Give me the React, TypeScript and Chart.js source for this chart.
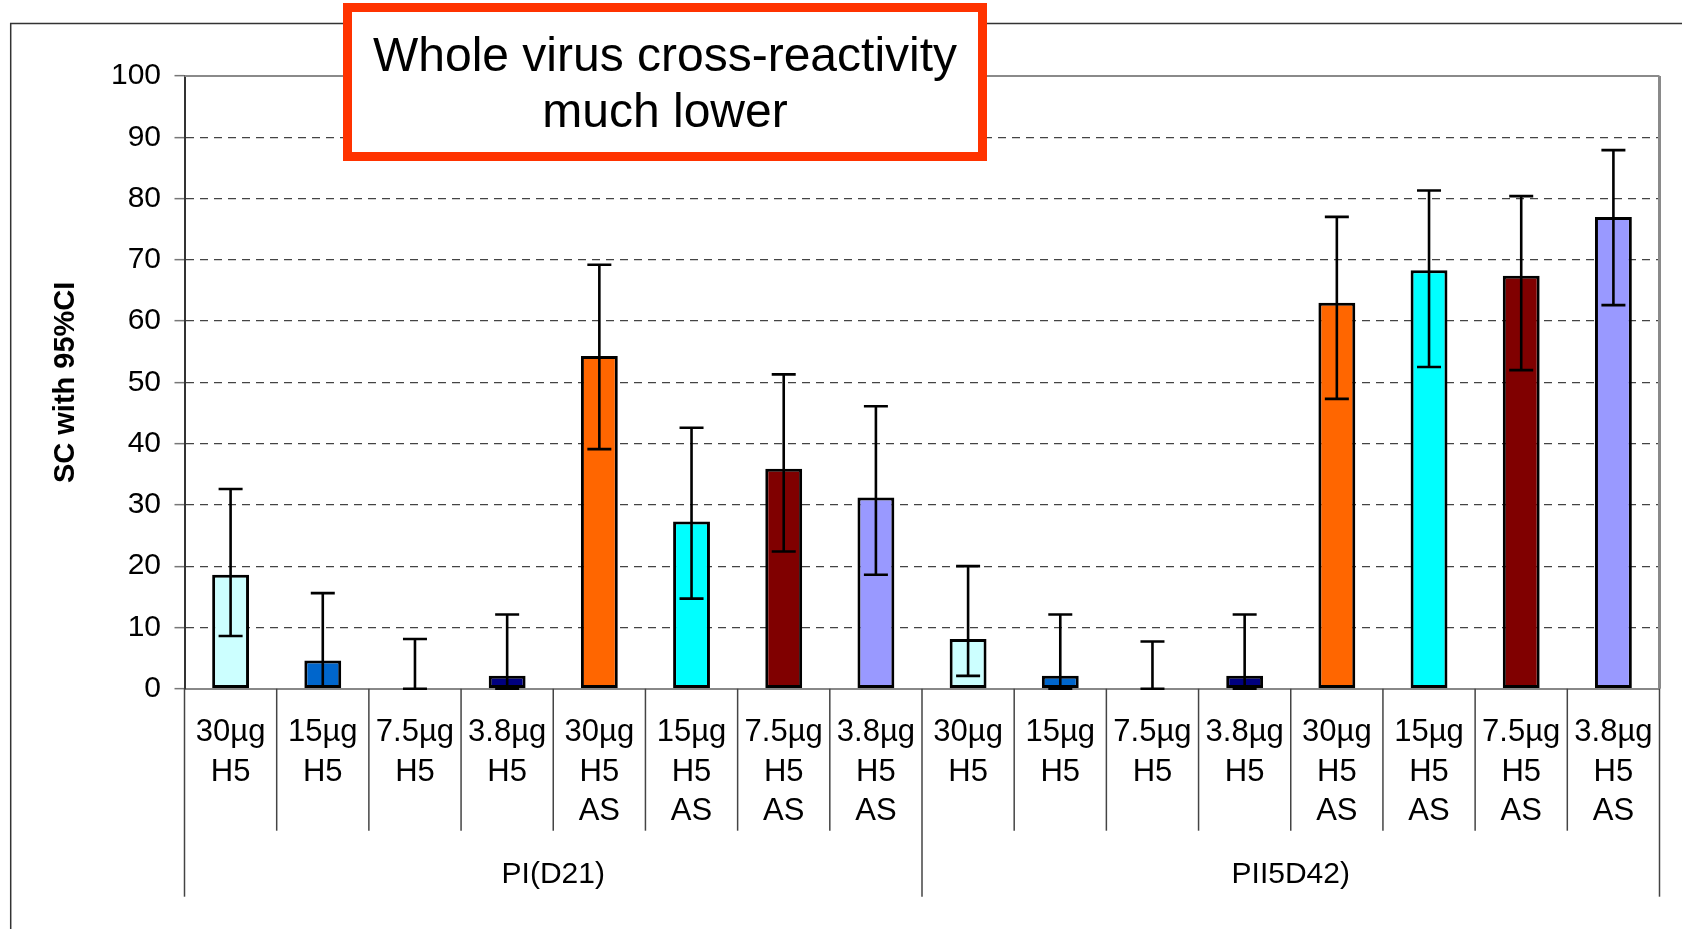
import React, { useEffect, useRef } from 'react';
import { Chart, registerables } from 'chart.js';

Chart.register(...registerables);

// ---- data ----
const categories: string[][] = [
  ['30µg', 'H5'], ['15µg', 'H5'], ['7.5µg', 'H5'], ['3.8µg', 'H5'],
  ['30µg', 'H5', 'AS'], ['15µg', 'H5', 'AS'], ['7.5µg', 'H5', 'AS'], ['3.8µg', 'H5', 'AS'],
  ['30µg', 'H5'], ['15µg', 'H5'], ['7.5µg', 'H5'], ['3.8µg', 'H5'],
  ['30µg', 'H5', 'AS'], ['15µg', 'H5', 'AS'], ['7.5µg', 'H5', 'AS'], ['3.8µg', 'H5', 'AS'],
];
const groups = ['PI(D21)', 'PII5D42)'];
const scValues = [18.6, 4.6, 0, 2.1, 54.3, 27.3, 35.9, 31.2, 8.1, 2.1, 0, 2.1, 63.0, 68.3, 67.4, 77.0];
const ciUpper = [32.6, 15.6, 8.1, 12.1, 69.2, 42.6, 51.3, 46.1, 20.0, 12.1, 7.7, 12.1, 77.0, 81.3, 80.4, 87.9];
const ciLower = [8.6, 0.4, 0, 0, 39.1, 14.7, 22.4, 18.6, 2.1, 0, 0, 0, 47.3, 52.5, 52.0, 62.6];
const barColors = [
  '#CCFFFF', '#0066CC', '#3366FF', '#000080', '#FF6600', '#00FFFF', '#800000', '#9999FF',
  '#CCFFFF', '#0066CC', '#3366FF', '#000080', '#FF6600', '#00FFFF', '#800000', '#9999FF',
];
const yTitle = 'SC with 95%CI';
const boxText = ['Whole virus cross-reactivity', 'much lower'];
const yMin = 0;
const yMax = 100;
const yStep = 10;

const FONT = '"Liberation Sans", Arial, Helvetica, sans-serif';

const framePlugin = {
  id: 'frame',
  beforeDatasetsDraw(chart: any) {
    const { ctx, chartArea: a, scales } = chart;
    const x = scales.x;
    ctx.save();
    // outer (cropped) border
    ctx.strokeStyle = '#333';
    ctx.lineWidth = 1.5;
    ctx.beginPath();
    ctx.moveTo(10.7, chart.height + 5);
    ctx.lineTo(10.7, 23.6);
    ctx.lineTo(chart.width + 5, 23.6);
    ctx.stroke();
    // plot area frame top / right
    ctx.strokeStyle = '#8a8a8a';
    ctx.lineWidth = 2;
    ctx.beginPath();
    ctx.moveTo(a.left, a.top);
    ctx.lineTo(a.right, a.top);
    ctx.stroke();
    ctx.lineWidth = 3;
    ctx.beginPath();
    ctx.moveTo(a.right, a.top);
    ctx.lineTo(a.right, a.bottom);
    ctx.stroke();
    // category separators
    const n = categories.length;
    const groupSize = n / groups.length;
    const half = (x.getPixelForValue(1) - x.getPixelForValue(0)) / 2;
    ctx.strokeStyle = '#444';
    ctx.lineWidth = 1.5;
    for (let i = 0; i <= n; i++) {
      const px = i < n ? x.getPixelForValue(i) - half : x.getPixelForValue(n - 1) + half;
      const long = i % groupSize === 0;
      ctx.beginPath();
      ctx.moveTo(px, a.bottom);
      ctx.lineTo(px, a.bottom + (long ? 208 : 142));
      ctx.stroke();
    }
    ctx.restore();
  },
};

const errorBarPlugin = {
  id: 'errorBars',
  afterDatasetsDraw(chart: any) {
    const { ctx, scales } = chart;
    const y = scales.y;
    const meta = chart.getDatasetMeta(0);
    ctx.save();
    ctx.strokeStyle = '#000';
    ctx.lineWidth = 2.6;
    ctx.lineCap = 'butt';
    meta.data.forEach((bar: any, i: number) => {
      const yh = y.getPixelForValue(ciUpper[i]);
      const yl = y.getPixelForValue(ciLower[i]);
      const cap = 12;
      ctx.beginPath();
      ctx.moveTo(bar.x, yh);
      ctx.lineTo(bar.x, yl);
      ctx.moveTo(bar.x - cap, yh);
      ctx.lineTo(bar.x + cap, yh);
      ctx.moveTo(bar.x - cap, yl);
      ctx.lineTo(bar.x + cap, yl);
      ctx.stroke();
    });
    ctx.restore();
  },
};

const boxPlugin = {
  id: 'noteBox',
  afterDraw(chart: any) {
    const { ctx } = chart;
    ctx.save();
    ctx.fillStyle = '#fff';
    ctx.fillRect(343, 3, 644, 158);
    ctx.strokeStyle = '#FF3300';
    ctx.lineWidth = 9;
    ctx.strokeRect(347.5, 7.5, 635, 149);
    ctx.fillStyle = '#000';
    ctx.font = `48px ${FONT}`;
    ctx.textAlign = 'center';
    ctx.textBaseline = 'middle';
    ctx.fillText(boxText[0], 665, 58);
    ctx.fillText(boxText[1], 665, 114);
    ctx.restore();
  },
};

export default function App() {
  const canvasRef = useRef<HTMLCanvasElement>(null);

  useEffect(() => {
    if (!canvasRef.current) return;
    const chart = new Chart(canvasRef.current, {
      type: 'bar',
      data: {
        labels: categories,
        datasets: [
          {
            data: scValues,
            backgroundColor: barColors,
            borderColor: '#000',
            borderWidth: (c: any) => (scValues[c.dataIndex] === 0 ? 0 : 3),
            borderSkipped: false,
            barPercentage: 0.4,
            categoryPercentage: 1,
          },
        ],
      },
      options: {
        responsive: false,
        animation: false,
        devicePixelRatio: 1,
        layout: { padding: { top: 76, right: 22.5, bottom: 0, left: 0 } },
        plugins: {
          legend: { display: false },
          tooltip: { enabled: false },
          title: { display: false },
        },
        scales: {
          x: {
            type: 'category',
            position: 'bottom',
            weight: 0,
            grid: { display: false },
            border: { display: true, color: '#888', width: 2 },
            ticks: {
              color: '#000',
              font: { family: FONT, size: 31, lineHeight: 1.27 },
              padding: 16.5,
              autoSkip: false,
              maxRotation: 0,
              minRotation: 0,
            },
            afterFit: (s: any) => {
              s.height = 150;
            },
          },
          x2: {
            type: 'category',
            position: 'bottom',
            weight: 1,
            labels: groups,
            offset: true,
            grid: { display: false },
            border: { display: false },
            ticks: {
              color: '#000',
              font: { family: FONT, size: 30, lineHeight: 1.2 },
              padding: 10.5,
              autoSkip: false,
              maxRotation: 0,
            },
            afterFit: (s: any) => {
              s.height = 90.3;
            },
          },
          y: {
            min: yMin,
            max: yMax,
            grid: {
              color: (c: any) =>
                c.tick && (c.tick.value === yMin || c.tick.value === yMax) ? 'rgba(0,0,0,0)' : '#444',
              lineWidth: 1.3,
              tickColor: '#777',
              tickLength: 10,
              tickWidth: 1.5,
            },
            border: { display: true, color: '#333', width: 2, dash: [8, 6] },
            ticks: {
              stepSize: yStep,
              color: '#000',
              font: { family: FONT, size: 30 },
              padding: 13.5,
            },
            title: {
              display: true,
              text: yTitle,
              color: '#000',
              font: { family: FONT, size: 29, weight: 'bold', lineHeight: 1.2 },
              padding: { top: 49, bottom: 0 },
            },
            afterFit: (s: any) => {
              s.width = 184.5;
            },
          },
        },
      },
      plugins: [framePlugin, errorBarPlugin, boxPlugin],
    } as any);
    return () => chart.destroy();
  }, []);

  return (
    <div style={{ position: 'fixed', left: 0, top: 0, width: 1682, height: 929, background: '#fff' }}>
      <canvas ref={canvasRef} width={1682} height={929} style={{ display: 'block' }} />
    </div>
  );
}
